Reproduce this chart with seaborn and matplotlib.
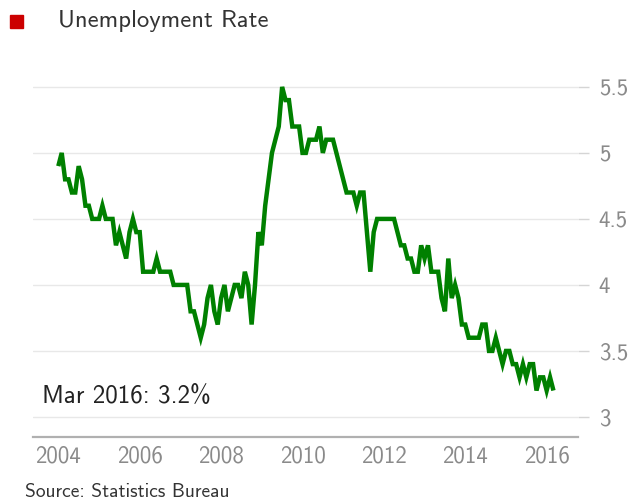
import numpy as np
import pandas as pd
import seaborn as sns
import matplotlib.pyplot as plt
from matplotlib.ticker import MultipleLocator, FuncFormatter

# monthly unemployment rate (%), Jan 2004 - Mar 2016
rate_2004 = [4.9, 5.0, 4.8, 4.8, 4.7, 4.7, 4.9, 4.8, 4.6, 4.6, 4.5, 4.5]
rate_2005 = [4.5, 4.6, 4.5, 4.5, 4.5, 4.3, 4.4, 4.3, 4.2, 4.4, 4.5, 4.4]
rate_2006 = [4.4, 4.1, 4.1, 4.1, 4.1, 4.2, 4.1, 4.1, 4.1, 4.1, 4.0, 4.0]
rate_2007 = [4.0, 4.0, 4.0, 3.8, 3.8, 3.7, 3.6, 3.7, 3.9, 4.0, 3.8, 3.7]
rate_2008 = [3.9, 4.0, 3.8, 3.9, 4.0, 4.0, 3.9, 4.1, 4.0, 3.7, 4.0, 4.4]
rate_2009 = [4.3, 4.6, 4.8, 5.0, 5.1, 5.2, 5.5, 5.4, 5.4, 5.2, 5.2, 5.2]
rate_2010 = [5.0, 5.0, 5.1, 5.1, 5.1, 5.2, 5.0, 5.1, 5.1, 5.1, 5.0, 4.9]
rate_2011 = [4.8, 4.7, 4.7, 4.7, 4.6, 4.7, 4.7, 4.4, 4.1, 4.4, 4.5, 4.5]
rate_2012 = [4.5, 4.5, 4.5, 4.5, 4.4, 4.3, 4.3, 4.2, 4.2, 4.1, 4.1, 4.3]
rate_2013 = [4.2, 4.3, 4.1, 4.1, 4.1, 3.9, 3.8, 4.2, 3.9, 4.0, 3.9, 3.7]
rate_2014 = [3.7, 3.6, 3.6, 3.6, 3.6, 3.7, 3.7, 3.5, 3.5, 3.6, 3.5, 3.4]
rate_2015 = [3.5, 3.5, 3.4, 3.4, 3.3, 3.4, 3.3, 3.4, 3.4, 3.2, 3.3, 3.3]
rate_2016 = [3.2, 3.3, 3.2]

rate = (rate_2004 + rate_2005 + rate_2006 + rate_2007 + rate_2008 + rate_2009 + rate_2010
        + rate_2011 + rate_2012 + rate_2013 + rate_2014 + rate_2015 + rate_2016)
first_year = 2004
y_ticks = [3, 3.5, 4, 4.5, 5, 5.5]

df = pd.DataFrame({"year": first_year + np.arange(len(rate)) / 12, "rate": rate})

sns.set_theme(style="white")
plt.rcParams['font.family'] = ['cmss10', 'DejaVu Sans']
plt.rcParams['axes.unicode_minus'] = False

fig = plt.figure(figsize=(6.3, 5.04), dpi=100)
ax = fig.add_axes([33 / 630, 1 - 437 / 504, 545 / 630, 372 / 504])

sns.lineplot(data=df, x="year", y="rate", color="#008000", linewidth=3.2, ax=ax)
ax.lines[0].set_solid_joinstyle("miter")
ax.lines[0].set_solid_capstyle("butt")

ax.set_xlim(2003.378, 2016.77)
ax.set_ylim(2.848, 5.666)
ax.set_xlabel("")
ax.set_ylabel("")

# x axis: year ticks pointing up, labels every two years
ax.xaxis.set_major_locator(MultipleLocator(2))
ax.xaxis.set_minor_locator(MultipleLocator(1))
ax.xaxis.set_major_formatter(FuncFormatter(lambda v, p: "%d" % v))
ax.tick_params(axis="x", which="major", direction="in", length=8.5, width=1,
               color="#cccccc", labelsize=16.5, labelcolor="#8a8a8a", pad=6)
ax.tick_params(axis="x", which="minor", direction="in", length=5.5, width=1, color="#cccccc")

# y axis on the right
ax.yaxis.tick_right()
ax.set_yticks(y_ticks)
ax.yaxis.set_major_formatter(FuncFormatter(lambda v, p: "%g" % v))
ax.tick_params(axis="y", direction="out", length=8, width=1, color="#d5d5d5",
               labelsize=16.5, labelcolor="#8a8a8a", pad=7)
ax.grid(axis="y", color="#e8e8e8", linewidth=1)
ax.grid(axis="x", visible=False)

for side in ["top", "left", "right"]:
    ax.spines[side].set_visible(False)
ax.spines["bottom"].set_color("#b0b0b0")
ax.spines["bottom"].set_linewidth(1.6)

# header, latest value and source
fig.patches.append(plt.Rectangle((10 / 630, 1 - 28 / 504), 13 / 630, 13 / 504,
                                 transform=fig.transFigure, color="#cc0000", figure=fig))
fig.text(58 / 630, 1 - 21 / 504, "Unemployment Rate", fontsize=17.7, color="#333333", va="center")
fig.text(42 / 630, 1 - 396 / 504, "Mar 2016: 3.2%", fontsize=18, color="#222222", va="center")
fig.text(25 / 630, 1 - 492 / 504, "Source: Statistics Bureau", fontsize=14, color="#333333", va="center")

fig.savefig("out.png", dpi=100)
